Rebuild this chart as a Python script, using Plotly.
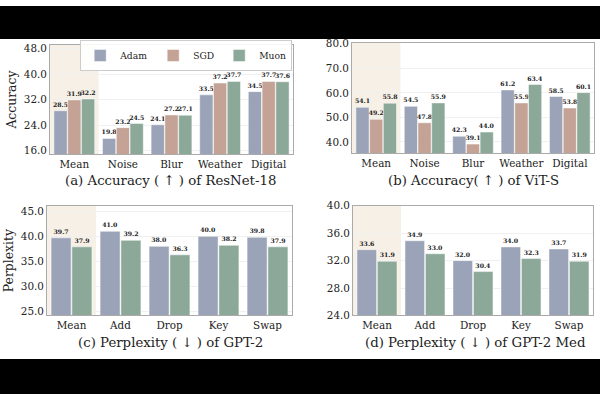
import plotly.graph_objects as go

cats_img = ["Mean", "Noise", "Blur", "Weather", "Digital"]
cats_txt = ["Mean", "Add", "Drop", "Key", "Swap"]

resnet_adam = [28.5, 19.8, 24.1, 33.5, 34.5]
resnet_sgd = [31.9, 23.2, 27.2, 37.2, 37.7]
resnet_muon = [32.2, 24.5, 27.1, 37.7, 37.6]

vit_adam = [54.1, 54.5, 42.3, 61.2, 58.5]
vit_sgd = [49.2, 47.8, 39.1, 55.9, 53.8]
vit_muon = [55.8, 55.9, 44.0, 63.4, 60.1]

gpt2_adam = [39.7, 41.0, 38.0, 40.0, 39.8]
gpt2_muon = [37.9, 39.2, 36.3, 38.2, 37.9]

gpt2m_adam = [33.6, 34.9, 32.0, 34.0, 33.7]
gpt2m_muon = [31.9, 33.0, 30.4, 32.3, 31.9]

titles = ["(a) Accuracy ( \u2191 ) of ResNet-18", "(b) Accuracy( \u2191 ) of ViT-S",
          "(c) Perplexity ( \u2193 ) of GPT-2", "(d) Perplexity ( \u2193 ) of GPT-2 Med"]

C_ADAM = "#9aa3b7"
C_SGD = "#c4a396"
C_MUON = "#8ba898"
FONT = "DejaVu Serif"

fig = go.Figure()

def add_bar(x, y, name, color, ax, show):
    fig.add_trace(go.Bar(
        x=x, y=y, name=name,
        marker=dict(color=color, line=dict(color="rgba(255,255,255,0.6)", width=0.8)),
        xaxis="x" + ax, yaxis="y" + ax, showlegend=show, legendgroup=name,
        texttemplate="<b>%{y:.1f}</b>", textposition="outside", constraintext="none",
        textfont=dict(family=FONT, size=6.2, color="#222"), cliponaxis=False,
    ))

add_bar(cats_img, resnet_adam, "Adam", C_ADAM, "", True)
add_bar(cats_img, resnet_sgd, "SGD", C_SGD, "", True)
add_bar(cats_img, resnet_muon, "Muon", C_MUON, "", True)
add_bar(cats_img, vit_adam, "Adam", C_ADAM, "2", False)
add_bar(cats_img, vit_sgd, "SGD", C_SGD, "2", False)
add_bar(cats_img, vit_muon, "Muon", C_MUON, "2", False)
add_bar(cats_txt, gpt2_adam, "Adam", C_ADAM, "3", False)
add_bar(cats_txt, gpt2_muon, "Muon", C_MUON, "3", False)
add_bar(cats_txt, gpt2m_adam, "Adam", C_ADAM, "4", False)
add_bar(cats_txt, gpt2m_muon, "Muon", C_MUON, "4", False)

W, H = 600, 400
doms = {
    "": ([50 / W, 293 / W], [1 - 153 / H, 1 - 40 / H], [14.8, 49.2], [16, 24, 32, 40, 48]),
    "2": ([352 / W, 594 / W], [1 - 152 / H, 1 - 38 / H], [35.3, 80.4], [40, 50, 60, 70, 80]),
    "3": ([47 / W, 292 / W], [1 - 319 / H, 1 - 206 / H], [24.2, 46.1], [25, 30, 35, 40, 45]),
    "4": ([353 / W, 593 / W], [1 - 319 / H, 1 - 206 / H], [24, 40], [24, 28, 32, 36, 40]),
}

layout = dict(
    width=W, height=H, margin=dict(l=0, r=0, t=0, b=0),
    paper_bgcolor="white", plot_bgcolor="white",
    barmode="group", bargap=0.15, bargroupgap=0.04,
    font=dict(family=FONT, color="#222"),
    legend=dict(orientation="h", x=0.487, xanchor="right", y=1 - 51 / H, yanchor="middle",
                bgcolor="rgba(255,255,255,0.9)", bordercolor="#cccccc", borderwidth=1,
                font=dict(family=FONT, size=9.2), tracegroupgap=0, itemwidth=30),
)
shapes = []
annotations = []
for ax, (xd, yd, yr, yt) in doms.items():
    layout["xaxis" + ax] = dict(domain=xd, anchor="y" + ax, showline=True, mirror=True,
                                linecolor="#aaaaaa", linewidth=1, ticks="", tickangle=0,
                                tickfont=dict(family=FONT, size=10.4, color="#222"),
                                range=[-0.5, 4.5])
    layout["yaxis" + ax] = dict(domain=yd, anchor="x" + ax, showline=True, mirror=True,
                                linecolor="#aaaaaa", linewidth=1, range=yr, tickvals=yt,
                                tickformat=".1f", showgrid=True, gridcolor="#f0f0f0",
                                gridwidth=1, zeroline=False, ticks="",
                                tickfont=dict(family=FONT, size=10.4, color="#222"))
    shapes.append(dict(type="rect", xref="x" + ax, yref="y" + ax + " domain",
                       x0=-0.5, x1=0.5, y0=0, y1=1, fillcolor="#f6f0e6",
                       line=dict(width=0), layer="below"))

# letterbox bands
shapes.append(dict(type="rect", xref="paper", yref="paper", x0=0, x1=1, y0=1 - 34 / H, y1=1,
                   fillcolor="black", line=dict(width=0), layer="above"))
shapes.append(dict(type="rect", xref="paper", yref="paper", x0=0, x1=1, y0=0, y1=1 - 364 / H,
                   fillcolor="black", line=dict(width=0), layer="above"))

layout["yaxis"]["title"] = dict(text="Accuracy", font=dict(family=FONT, size=12.4), standoff=4)
layout["yaxis3"]["title"] = dict(text="Perplexity", font=dict(family=FONT, size=12.4), standoff=4)

tpos = [(171, 180), (473, 180), (170, 347), (475, 347)]
for t, (x, y) in zip(titles, tpos):
    annotations.append(dict(text=t, x=x / W, y=1 - y / H, xref="paper", yref="paper",
                            showarrow=False, font=dict(family=FONT, size=13.3, color="#222"),
                            xanchor="center", yanchor="middle"))

layout["shapes"] = shapes
layout["annotations"] = annotations
fig.update_layout(**layout)
fig.write_html("out.html")
